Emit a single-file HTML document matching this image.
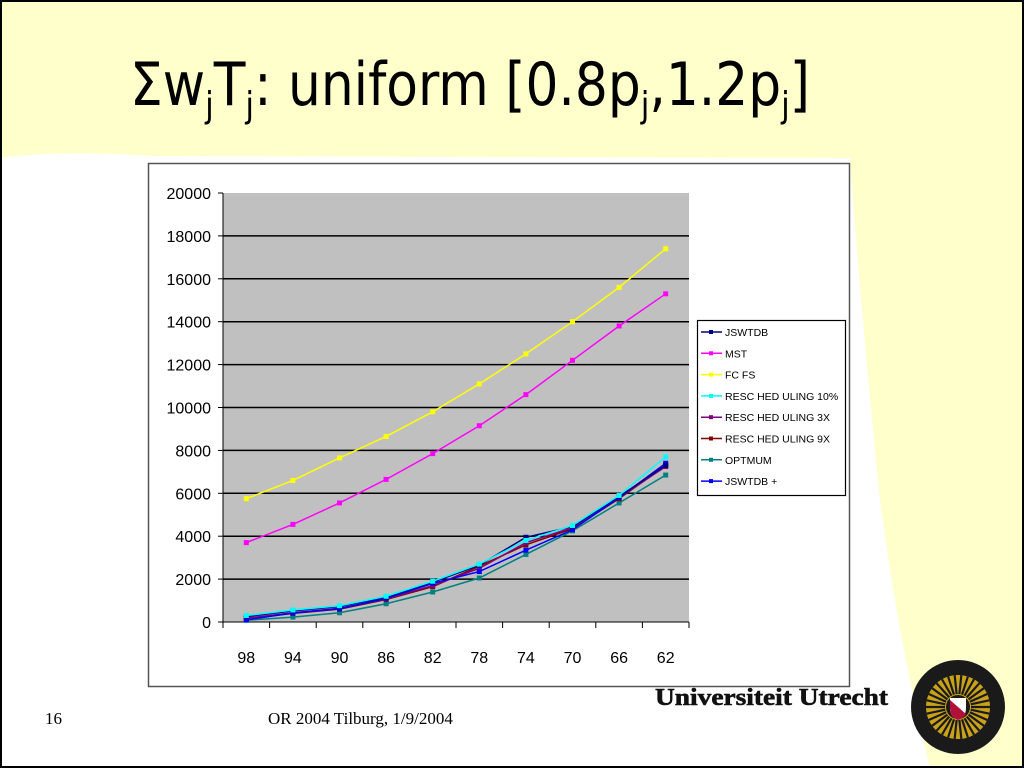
<!DOCTYPE html>
<html><head><meta charset="utf-8"><style>
html,body{margin:0;padding:0;background:#fff}
svg{display:block}
</style></head><body>
<svg width="1024" height="768" viewBox="0 0 1024 768" xmlns="http://www.w3.org/2000/svg">
<rect x="0" y="0" width="1024" height="768" fill="#ffffcc"/>
<path d="M0,158 Q60,150 150,156 L850,158 Q860,300 880,500 Q900,650 930,768 L0,768 Z" fill="#ffffff"/>
<rect x="1" y="1" width="1022" height="766" fill="none" stroke="#000" stroke-width="2"/>
<text x="130" y="105" textLength="680" lengthAdjust="spacingAndGlyphs" font-family="'DejaVu Sans Condensed','DejaVu Sans','Liberation Sans',sans-serif" font-size="60" fill="#000">Σw<tspan font-size="36" dy="12">j</tspan><tspan dy="-12">T</tspan><tspan font-size="36" dy="12">j</tspan><tspan dy="-12">: uniform [0.8p</tspan><tspan font-size="36" dy="12">j</tspan><tspan dy="-12">,1.2p</tspan><tspan font-size="36" dy="12">j</tspan><tspan dy="-12">]</tspan></text>
<rect x="148.5" y="163.5" width="701" height="523" fill="#fff" stroke="#555" stroke-width="1.5"/>
<g id="chart"></g>
<g>
<rect x="697.5" y="320.5" width="148" height="175" fill="#fff" stroke="#000" stroke-width="1.2"/>
<g id="legend"></g>
</g>
<text x="45" y="724" font-family="'Liberation Serif',serif" font-size="17">16</text>
<text x="268" y="724" font-family="'Liberation Serif',serif" font-size="17">OR 2004 Tilburg, 1/9/2004</text>
<text x="655" y="705" font-family="'Liberation Serif',serif" font-weight="bold" font-size="24" textLength="233" lengthAdjust="spacingAndGlyphs" fill="#111" stroke="#111" stroke-width="0.6">Universiteit Utrecht</text>
<g>
<circle cx="958" cy="707" r="47" fill="#1a1a1a"/>
<circle cx="958" cy="707" r="32" fill="#c9a21a"/>
<g id="rays" stroke="#1a1a1a" stroke-width="2.2"></g>
<circle cx="958" cy="707" r="12" fill="#1a1a1a"/>
<path d="M950,698 h16 v10 q0,9 -8,12 q-8,-3 -8,-12z" fill="#fff"/>
<path d="M950,700 L966,714 q-2,4 -8,6 q-8,-3 -8,-12z" fill="#b0103a"/>
</g>
</svg>
<script>
const categories=["98","94","90","86","82","78","74","70","66","62"];
const yTicks=[0,2000,4000,6000,8000,10000,12000,14000,16000,18000,20000];
const seriesNames=["JSWTDB","MST","FC FS","RESC HED ULING 10%","RESC HED ULING 3X","RESC HED ULING 9X","OPTMUM","JSWTDB +"];
const jswtdb=[250,520,720,1150,1850,2650,3950,4450,5850,7300];
const mst=[3700,4550,5550,6650,7850,9150,10600,12200,13800,15300];
const fcfs=[5750,6600,7650,8650,9800,11100,12500,14000,15600,17400];
const resch10=[300,560,760,1200,1900,2700,3800,4500,5900,7700];
const resch3=[180,430,640,1080,1700,2500,3700,4400,5800,7250];
const resch9=[150,400,600,1050,1650,2600,3600,4350,5750,7300];
const optimum=[80,230,430,850,1400,2050,3150,4250,5550,6850];
const jswtdbPlus=[100,420,620,1100,1800,2350,3350,4300,5800,7400];
const seriesData=[jswtdb,mst,fcfs,resch10,resch3,resch9,optimum,jswtdbPlus];
const seriesColors=["#000080","#ff00ff","#ffff00","#00ffff","#800080","#800000","#008080","#0000ff"];
const NS="http://www.w3.org/2000/svg";
const L=223,R=689,T=193,B=622,YMAX=20000;
const n=categories.length, step=(R-L)/n;
function xPos(i){return L+step*(i+0.5);}
function yPos(v){return B-(v/YMAX)*(B-T);}
function el(tag,attrs,parent){const e=document.createElementNS(NS,tag);for(const k in attrs)e.setAttribute(k,attrs[k]);parent.appendChild(e);return e;}
const g=document.getElementById('chart');
const pa=el('rect',{x:L,y:T,width:R-L,height:B-T,fill:'#c0c0c0'},g);


yTicks.forEach(v=>{
  const y=yPos(v);
  if(v>0&&v<YMAX){const gl=el('line',{x1:L,x2:R,y1:y,y2:y,stroke:'#000','stroke-width':1.5},g);
  
  }
  el('line',{x1:L-5,x2:L,y1:y,y2:y,stroke:'#000'},g);
  const t=el('text',{x:211,y:y+6,'text-anchor':'end','font-family':'Liberation Sans,sans-serif','font-size':16,fill:'#000'},g);
  t.textContent=v;
  
  
});
el('line',{x1:L,x2:L,y1:T,y2:B,stroke:'#000'},g);
el('line',{x1:L,x2:R,y1:B,y2:B,stroke:'#000'},g);
for(let i=0;i<=n;i++){el('line',{x1:L+step*i,x2:L+step*i,y1:B,y2:B+6,stroke:'#000'},g);}
categories.forEach((c,i)=>{
  const t=el('text',{x:xPos(i),y:663,'text-anchor':'middle','font-family':'Liberation Sans,sans-serif','font-size':16},g);
  t.textContent=c;
  
  
});
const order=[2,1,6,5,4,7,0,3];
order.forEach(s=>{
  const pts=seriesData[s].map((v,i)=>xPos(i)+','+yPos(v)).join(' ');
  const pl=el('polyline',{points:pts,fill:'none',stroke:seriesColors[s],'stroke-width':1.5},g);
  
  
  seriesData[s].forEach((v,i)=>{
    const m=el('rect',{x:xPos(i)-2.5,y:yPos(v)-2.5,width:5,height:5,fill:seriesColors[s]},g);
    
    
  });
});
const lg=document.getElementById('legend');
seriesNames.forEach((nm,i)=>{
  const y=332+i*21.3;
  el('line',{x1:701,x2:722,y1:y,y2:y,stroke:seriesColors[i],'stroke-width':1.5},lg);
  el('rect',{x:709,y:y-2,width:4,height:4,fill:seriesColors[i]},lg);
  const t=el('text',{x:725,y:y+4,'font-family':'Liberation Sans,sans-serif','font-size':10.5,fill:'#000'},lg);
  t.textContent=nm;
  
  
});
const rays=document.getElementById('rays');
for(let a=0;a<360;a+=12){const r=a*Math.PI/180;
  el('line',{x1:958+13*Math.cos(r),y1:707+13*Math.sin(r),x2:958+32*Math.cos(r),y2:707+32*Math.sin(r)},rays);}
</script>
</body></html>
